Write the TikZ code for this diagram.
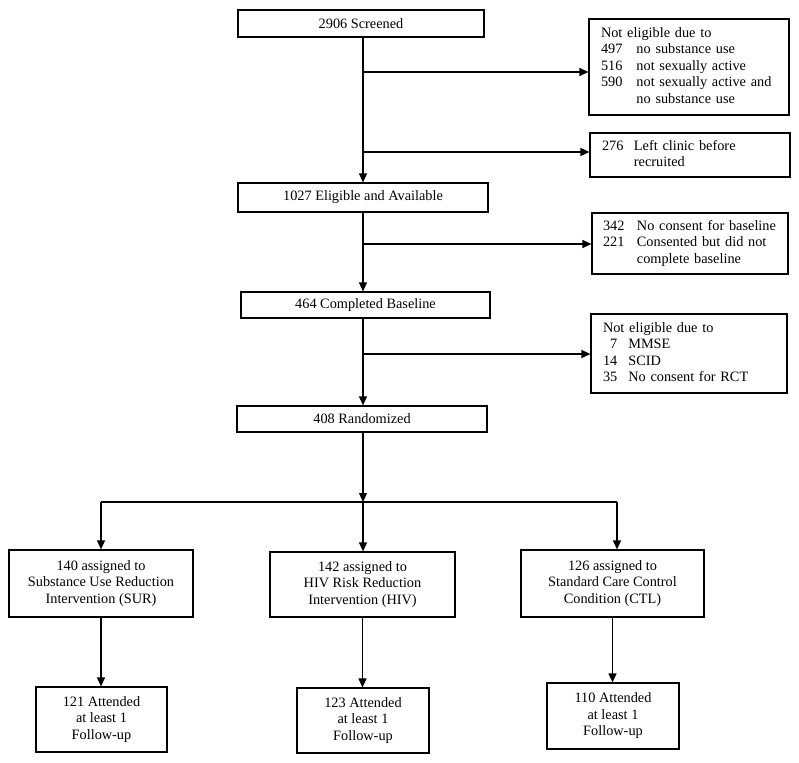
\documentclass[tikz,border=0pt]{standalone}
\usepackage{fontspec}
\setmainfont{Liberation Serif}
\usetikzlibrary{arrows.meta}
\begin{document}
\begin{tikzpicture}[x=1pt,y=-1pt,
  font=\fontsize{14.3}{16.5}\selectfont,
  line width=1.2pt,
  arr/.style={-{Triangle[length=9pt,width=8pt]}},
  cbox/.style={draw,inner sep=0pt,align=center},
  rbox/.style={draw,inner xsep=12pt,inner ysep=0pt,align=left},
  ]
\useasboundingbox (0,0) rectangle (799,762);
% main column
\node[cbox,minimum width=246pt,minimum height=27pt] (scr) at (361,23.5) {2906 Screened};
\node[cbox,minimum width=250pt,minimum height=29pt] (elig) at (363,197.5) {1027 Eligible and Available};
\node[cbox,minimum width=249pt,minimum height=26pt] (base) at (365.5,305) {464 Completed Baseline};
\node[cbox,minimum width=250pt,minimum height=26pt] (rand) at (362,419) {408 Randomized};
% right boxes
\node[rbox,text width=176pt,minimum height=96pt] (ne1) at (689,67) {%
\begin{tabular}{@{}l@{\hspace{14pt}}l@{}}
\multicolumn{2}{@{}l@{}}{Not eligible due to}\\
497 & no substance use\\
516 & not sexually active\\
590 & not sexually active and\\
 & no substance use
\end{tabular}};
\node[rbox,text width=176pt,minimum height=44pt] (ne2) at (690,155) {%
\begin{tabular}{@{}l@{\hspace{10.5pt}}l@{}}
276 & Left clinic before\\
 & recruited
\end{tabular}};
\node[rbox,inner xsep=11pt,text width=174pt,minimum height=61pt] (ne3) at (690,243.5) {%
\begin{tabular}{@{}l@{\hspace{12.5pt}}l@{}}
342 & No consent for baseline\\
221 & Consented but did not\\
 & complete baseline
\end{tabular}};
\node[rbox,text width=172pt,minimum height=79pt] (ne4) at (689,353.5) {%
\begin{tabular}{@{}r@{\hspace{11pt}}l@{}}
\multicolumn{2}{@{}l@{}}{Not eligible due to}\\
7 & MMSE\\
14 & SCID\\
35 & No consent for RCT
\end{tabular}};
% arms
\node[cbox,minimum width=184pt,minimum height=67pt] (sur) at (101,583.5) {140 assigned to\\Substance Use Reduction\\Intervention (SUR)};
\node[cbox,minimum width=185pt,minimum height=65pt] (hiv) at (362.5,584.5) {142 assigned to\\HIV Risk Reduction\\Intervention (HIV)};
\node[cbox,minimum width=183pt,minimum height=67pt] (ctl) at (612.5,583.5) {126 assigned to\\Standard Care Control\\Condition (CTL)};
\node[cbox,minimum width=131pt,minimum height=65pt] (f1) at (101.5,719.5) {121 Attended\\at least 1\\Follow-up};
\node[cbox,minimum width=132pt,minimum height=65pt] (f2) at (363,720.5) {123 Attended\\at least 1\\Follow-up};
\node[cbox,minimum width=132pt,minimum height=66pt] (f3) at (613,716) {110 Attended\\at least 1\\Follow-up};
% branch coordinates
\coordinate (b1) at (363,72);
\coordinate (b2) at (363,152);
\coordinate (b3) at (363,244);
\coordinate (b4) at (363,354);
\coordinate (split) at (363,502);
\coordinate (L) at (101,502);
\coordinate (R) at (617,502);
% spine
\draw[arr] (scr.south -| b1) -- (elig.north -| b1);
\draw[arr] (elig.south -| b1) -- (base.north -| b1);
\draw[arr] (base.south -| b1) -- (rand.north -| b1);
\draw[arr] (rand.south -| b1) -- (split);
% side branches
\draw[arr] (b1) -- (b1 -| ne1.west);
\draw[arr] (b2) -- (b2 -| ne2.west);
\draw[arr] (b3) -- (b3 -| ne3.west);
\draw[arr] (b4) -- (b4 -| ne4.west);
% split
\draw (L) -- (R);
\draw[arr] (L) -- (L |- sur.north);
\draw[arr] (split) -- (split |- hiv.north);
\draw[arr] (R) -- (R |- ctl.north);
% follow-ups
\draw[arr] (sur.south) -- (sur.south |- f1.north);
\draw[arr] (hiv.south) -- (hiv.south |- f2.north);
\draw[arr] (ctl.south) -- (ctl.south |- f3.north);
\end{tikzpicture}
\end{document}
